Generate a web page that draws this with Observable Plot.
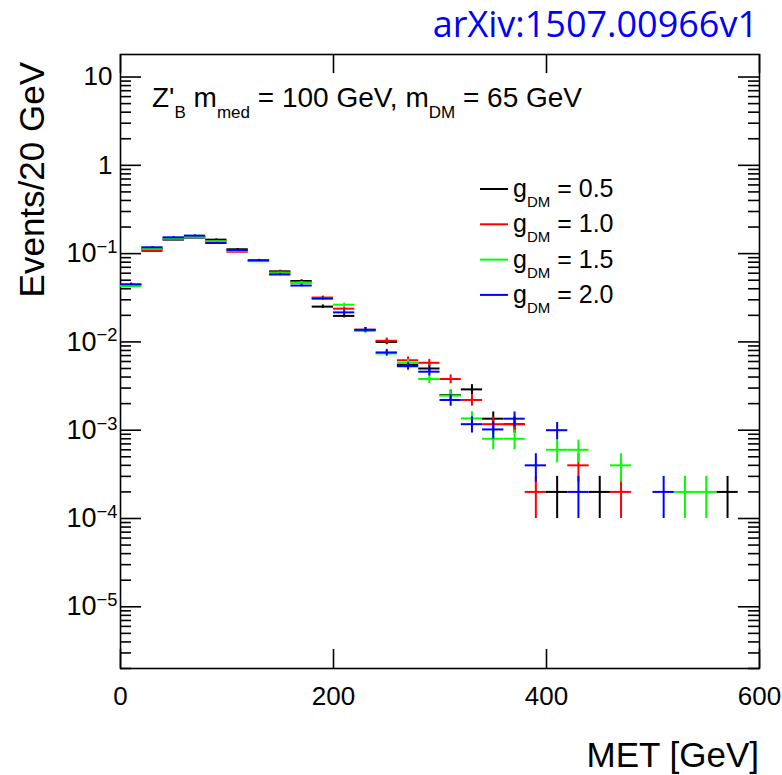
<!DOCTYPE html>
<html><head><meta charset="utf-8">
<script src="https://cdn.jsdelivr.net/npm/d3@7"></script>
<script src="https://cdn.jsdelivr.net/npm/@observablehq/plot@0.6"></script>
<style>body{margin:0;background:#fff} svg{display:block}</style>
</head><body><div id="chart"></div>
<script>
// ---- data ----
const binCenters = [10,30,50,70,90,110,130,150,170,190,210,230,250,270,290,310,330,350,370,390,410,430,450,470,490,510,530,550,570];
const binWidth = 20;
const eventWeight = 5e-5; // per-event weight (for Poisson error bars)
const seriesNames = ["0.5", "1.0", "1.5", "2.0"];
const seriesColors = ["#000000", "#ff0000", "#00ff00", "#0000ff"];
const valsG05 = [0.044,0.113,0.144,0.152,0.144,0.112,0.083,0.063,0.049,0.0251,0.0197,0.0137,0.0100,0.0055,0.0050,0.0025,0.0029,0.00135,0.00117,null,0.0002,null,0.0002,null,null,null,null,null,0.0002];
const valsG10 = [0.044,0.107,0.148,0.155,0.138,0.105,0.084,0.062,0.047,0.0318,0.0238,0.0137,0.0103,0.0062,0.0058,0.0038,0.0022,0.00117,0.00117,0.0002,null,0.0004,null,0.0002,null,null,null,null,null];
const valsG15 = [0.043,0.113,0.148,0.155,0.138,0.108,0.082,0.060,0.047,0.031,0.0264,0.0133,0.0074,0.0058,0.0038,0.00247,0.00136,0.0008,0.0008,null,0.0006,0.0006,null,0.0004,null,null,0.0002,0.0002,null];
const valsG20 = [0.045,0.118,0.153,0.160,0.132,0.110,0.084,0.058,0.0435,0.031,0.0216,0.0137,0.0076,0.0053,0.0046,0.0022,0.00117,0.00102,0.00135,0.0004,0.001,0.0002,null,null,null,0.0002,null,null,null];
const xTicks = [0, 200, 400, 600];
const yTicks = [10, 1, 0.1, 0.01, 0.001, 1e-4, 1e-5];
const yTickLabels = ["10", "1", "10^-1", "10^-2", "10^-3", "10^-4", "10^-5"];
const xDomain = [0, 600];
const yDomain = [2e-6, 18];
const xTitle = "MET [GeV]";
const yTitle = "Events/20 GeV";
const sourceText = "arXiv:1507.00966v1";

// ---- build ----
const allVals = [valsG05, valsG10, valsG15, valsG20];
const rowsBySeries = allVals.map((vals, si) =>
  vals.map((v, i) => v == null ? null : {
    s: seriesNames[si], c: binCenters[i],
    lo: binCenters[i] - binWidth / 2, hi: binCenters[i] + binWidth / 2,
    v, e: Math.sqrt(v * eventWeight)
  }).filter(d => d)
);

const FONT = "'Liberation Sans', Arial, Helvetica, sans-serif";
const W = 782, H = 775, mL = 120, mR = 23, mT = 54, mB = 107;
const frameW = W - mL - mR, frameH = H - mT - mB;
const yMinor = d3.scaleLog().domain(yDomain).ticks().filter(t => !yTicks.some(m => Math.abs(m - t) / m < 1e-9));
const LW = 1.6;

const marks = [
  Plot.frame({stroke: "black", strokeWidth: LW}),
  // inward ticks on all four sides
  Plot.ruleX(xTicks, {x: d => d, insetTop: frameH - 19, stroke: "black", strokeWidth: LW}),
  Plot.ruleX(xTicks, {x: d => d, insetBottom: frameH - 19, stroke: "black", strokeWidth: LW}),
  Plot.ruleY(yTicks, {y: d => d, insetRight: frameW - 21, stroke: "black", strokeWidth: LW}),
  Plot.ruleY(yTicks, {y: d => d, insetLeft: frameW - 21, stroke: "black", strokeWidth: LW}),
  Plot.ruleY(yMinor, {y: d => d, insetRight: frameW - 11, stroke: "black", strokeWidth: LW}),
  Plot.ruleY(yMinor, {y: d => d, insetLeft: frameW - 11, stroke: "black", strokeWidth: LW}),
  Plot.axisX({ticks: xTicks, tickSize: 0, tickPadding: 18, tickFormat: d => String(d), label: null, fontSize: 26}),
  Plot.axisY({ticks: yTicks, tickSize: 0, tickPadding: 3, tickFormat: d => yTickLabels[yTicks.indexOf(d)], label: null, fontSize: 27}),
];
rowsBySeries.forEach((rows, si) => {
  marks.push(Plot.ruleY(rows, {y: "v", x1: "lo", x2: "hi", stroke: seriesColors[si], strokeWidth: 2}));
  marks.push(Plot.ruleX(rows, {x: "c", y1: d => d.v - d.e, y2: d => d.v + d.e, stroke: seriesColors[si], strokeWidth: 2}));
});

const svgNode = Plot.plot({
  width: W, height: H,
  marginLeft: mL, marginRight: mR, marginTop: mT, marginBottom: mB,
  x: {domain: xDomain},
  y: {type: "log", domain: yDomain},
  style: {background: "white", color: "black", fontFamily: FONT, overflow: "visible"},
  marks
});

const svg = d3.select(svgNode);
// superscripts on y tick labels
svg.selectAll('g[aria-label="y-axis tick label"] text').each(function () {
  const el = d3.select(this);
  const t = this.textContent;
  if (t.includes("^")) {
    const [b, e] = t.split("^");
    el.text(null);
    el.append("tspan").text(b);
    el.append("tspan").attr("dy", "-0.5em").attr("font-size", "0.68em").text(e.replace("-", "\u2212"));
  } else {
    el.attr("dx", -5).attr("font-size", 26);
  }
});

// source text
svg.append("text").attr("x", 758).attr("y", 37).attr("text-anchor", "end")
  .attr("font-family", "'Open Sans', 'Noto Sans', sans-serif").attr("font-size", 36).attr("fill", "#0000ff")
  .text(sourceText);

// axis titles
svg.append("text").attr("x", 759).attr("y", 767).attr("text-anchor", "end")
  .attr("font-family", FONT).attr("font-size", 35).attr("fill", "black").text(xTitle);
svg.append("text").attr("transform", "translate(44,62) rotate(-90)").attr("text-anchor", "end")
  .attr("font-family", FONT).attr("font-size", 35).attr("fill", "black").text(yTitle);

// annotation
const ann = svg.append("text").attr("x", 152).attr("y", 107).attr("text-anchor", "start")
  .attr("font-family", FONT).attr("font-size", 28).attr("fill", "black");
const parts = [["Z'", 0], ["B", 1], [" m", 0], ["med", 1], [" = 100 GeV, m", 0], ["DM", 1], [" = 65 GeV", 0]];
let prevSub = 0;
parts.forEach(([t, sub]) => {
  const sp = ann.append("tspan").text(t);
  if (sub) sp.attr("font-size", 17);
  const dy = (sub ? 11 : 0) - (prevSub ? 11 : 0);
  if (dy) sp.attr("dy", dy);
  prevSub = sub;
});

// legend
seriesNames.forEach((name, i) => {
  const yy = 189 + 35.3 * i;
  svg.append("line").attr("x1", 480).attr("x2", 508).attr("y1", yy).attr("y2", yy)
    .attr("stroke", seriesColors[i]).attr("stroke-width", 2);
  const t = svg.append("text").attr("x", 513).attr("y", yy + 8).attr("text-anchor", "start")
    .attr("font-family", FONT).attr("font-size", 25).attr("fill", "black");
  t.append("tspan").text("g");
  t.append("tspan").attr("font-size", 15).attr("dy", 10).text("DM");
  t.append("tspan").attr("dy", -10).text(" = " + name);
});

document.getElementById("chart").appendChild(svgNode);
</script>
</body></html>
